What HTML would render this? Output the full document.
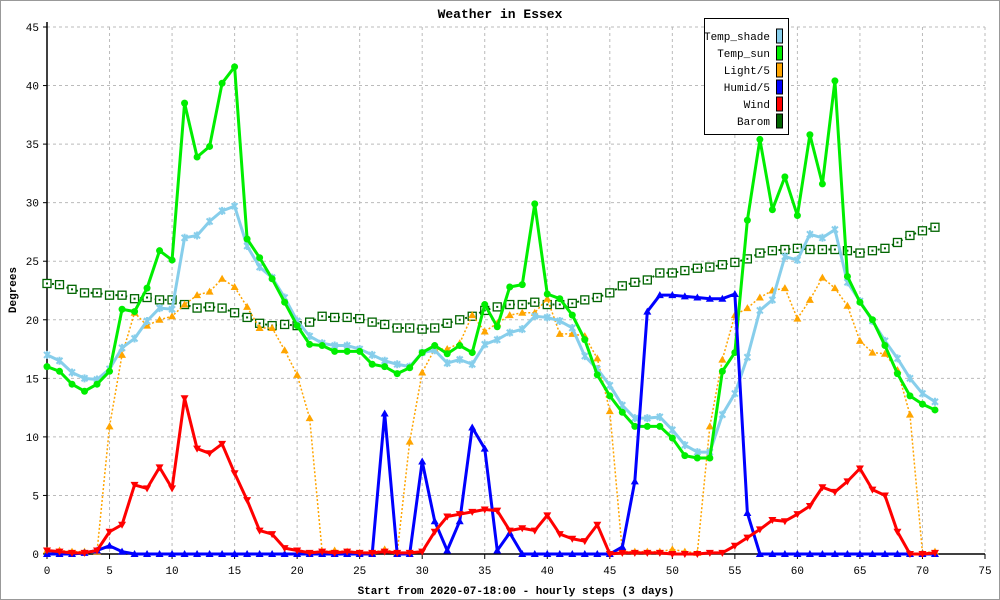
<!DOCTYPE html>
<html><head><meta charset="utf-8"><style>
body{margin:0;background:#fff;}
svg{display:block;font-family:"Liberation Mono",monospace;}
</style></head><body>
<svg id="chart" width="1000" height="600" viewBox="0 0 1000 600">
<rect x="0.5" y="0.5" width="999" height="599" fill="#fff" stroke="#999"/>
<text x="500" y="18" text-anchor="middle" font-size="13" font-weight="bold">Weather in Essex</text>
<text transform="translate(16,290) rotate(-90)" text-anchor="middle" font-size="11" font-weight="bold">Degrees</text>
<text x="516" y="594" text-anchor="middle" font-size="11" font-weight="bold">Start from 2020-07-18:00 - hourly steps (3 days)</text>
<g id="grid"></g><g id="axes"></g><g id="series"></g><g id="legend"></g>
</svg>
<script>
const xTicks=[0,5,10,15,20,25,30,35,40,45,50,55,60,65,70,75];
const yTicks=[0,5,10,15,20,25,30,35,40,45];
const tempShade=[17,16.5,15.5,15,14.9,15.8,17.6,18.4,19.9,21,20.9,27,27.2,28.4,29.3,29.7,26.3,24.5,23.6,21.9,19.9,18.6,18,17.8,17.8,17.5,17,16.5,16.2,16,17.2,17.4,16.3,16.6,16.2,17.9,18.3,18.9,19.2,20.3,20.2,19.9,19.3,16.9,15.8,14.4,12.7,11.6,11.6,11.7,10.6,9.3,8.7,8.7,11.9,13.7,16.8,20.8,21.7,25.4,25.1,27.3,27,27.7,23.2,21.6,19.9,18.2,16.7,15,13.7,13];
const tempSun=[16,15.6,14.5,13.9,14.5,15.6,20.9,20.7,22.7,25.9,25.1,38.5,33.9,34.8,40.2,41.6,26.9,25.3,23.5,21.5,19.5,17.9,17.8,17.3,17.3,17.3,16.2,16,15.4,15.9,17.2,17.8,17.1,17.8,17.2,21.3,19.4,22.8,23,29.9,22.2,21.8,20.4,18.3,15.3,13.5,12.1,10.9,10.9,10.9,9.9,8.4,8.2,8.2,15.6,17.2,28.5,35.4,29.4,32.2,28.9,35.8,31.6,40.4,23.7,21.5,20,17.8,15.4,13.5,12.8,12.3];
const light=[0.3,0.3,0.2,0.2,0.2,10.9,17,20.6,19.5,20,20.3,21.3,22.1,22.4,23.5,22.8,21.1,19.3,19.3,17.4,15.3,11.6,0.2,0.3,0.2,0.1,0.1,0.4,0.1,9.6,15.5,17.5,17.5,18,20.4,19,19.7,20.4,20.6,20.6,21.8,18.8,18.8,18.6,16.7,12.2,0.2,0.2,0.2,0.2,0.4,0.2,0.1,10.9,16.6,20.4,21,21.9,22.5,22.7,20.1,21.7,23.6,22.7,21.2,18.2,17.2,17.1,15.7,11.9,0.1,0.2];
const humid=[0,0,0,0.1,0.3,0.7,0.2,0,0,0,0,0,0,0,0,0,0,0,0,0,0,0,0,0,0,0,0,12,0,0,7.9,2.8,0.3,2.8,10.8,9,0.3,1.8,0,0,0,0,0,0,0,0,0.6,6.2,20.7,22.1,22.1,22,21.9,21.8,21.8,22.2,3.5,0,0,0,0,0,0,0,0,0,0,0,0,0,0,0];
const wind=[0.3,0.2,0.1,0.1,0.3,1.9,2.5,5.9,5.6,7.4,5.6,13.3,9,8.6,9.4,6.9,4.6,2,1.7,0.5,0.3,0.1,0.2,0.1,0.2,0.1,0.1,0.2,0.1,0.1,0.2,1.9,3.2,3.4,3.6,3.8,3.7,2,2.2,2,3.3,1.7,1.3,1.1,2.5,0,0.1,0.1,0.1,0.1,0,0,0,0.1,0.1,0.7,1.4,2.1,2.9,2.8,3.4,4.1,5.7,5.3,6.2,7.3,5.5,5,1.9,0,0,0.1];
const barom=[23.1,23,22.6,22.3,22.3,22.1,22.1,21.8,21.9,21.7,21.7,21.3,21,21.1,21,20.6,20.2,19.7,19.5,19.6,19.5,19.8,20.3,20.2,20.2,20.1,19.8,19.6,19.3,19.3,19.2,19.3,19.7,20,20.3,20.8,21.1,21.3,21.3,21.5,21.3,21.3,21.4,21.7,21.9,22.3,22.9,23.2,23.4,24,24,24.2,24.4,24.5,24.7,24.9,25.2,25.7,25.9,26,26.1,26,26,26,25.9,25.7,25.9,26.1,26.6,27.2,27.6,27.9];
const seriesNames=["Temp_shade","Temp_sun","Light/5","Humid/5","Wind","Barom"];

const NS="http://www.w3.org/2000/svg";
const X0=47,X1=985,Y0=554,Y1=27;
function sx(v){return X0+(X1-X0)*v/75;}
function sy(v){return Y0-(Y0-Y1)*v/45;}
function mk(tag,attrs,parent){const e=document.createElementNS(NS,tag);for(const k in attrs)e.setAttribute(k,attrs[k]);parent.appendChild(e);return e;}
const grid=document.getElementById('grid'),axes=document.getElementById('axes'),ser=document.getElementById('series'),leg=document.getElementById('legend');

yTicks.forEach(t=>{
  if(t>0){const g=mk('line',{x1:X0,x2:X1,y1:sy(t),y2:sy(t),stroke:'#bbb','stroke-dasharray':'3,3'},grid);
  
  }
  const tk=mk('line',{x1:X0-4,x2:X0,y1:sy(t),y2:sy(t),stroke:'#000'},axes);
  
  
  const lb=mk('text',{x:X0-8,y:sy(t)+4,'text-anchor':'end','font-size':11},axes);
  lb.textContent=t;
  
  
});
xTicks.forEach(t=>{
  if(t>0){const g=mk('line',{x1:sx(t),x2:sx(t),y1:Y1,y2:Y0,stroke:'#bbb','stroke-dasharray':'3,3'},grid);
  
  }
  const tk=mk('line',{x1:sx(t),x2:sx(t),y1:Y0,y2:Y0+5,stroke:'#000'},axes);
  
  
  const lb=mk('text',{x:sx(t),y:Y0+20,'text-anchor':'middle','font-size':11},axes);
  lb.textContent=t;
  
  
});
const ax1=mk('line',{x1:X0,x2:X0,y1:Y1-5,y2:Y0,stroke:'#000','stroke-width':1.5},axes);


const ax2=mk('line',{x1:X0,x2:X1,y1:Y0,y2:Y0,stroke:'#000','stroke-width':1.5},axes);



function marker(type,x,y,color,g){
  let e;
  if(type==='circle')e=mk('circle',{cx:x,cy:y,r:3.5,fill:color},g);
  else if(type==='up')e=mk('polygon',{points:`${x},${y-4} ${x-4},${y+3} ${x+4},${y+3}`,fill:color},g);
  else if(type==='down')e=mk('polygon',{points:`${x},${y+4} ${x-4},${y-3} ${x+4},${y-3}`,fill:color},g);
  else if(type==='star')e=mk('path',{d:`M${x-3},${y-3}L${x+3},${y+3}M${x+3},${y-3}L${x-3},${y+3}M${x},${y-4}L${x},${y+4}`,stroke:color,'stroke-width':2},g);
  else if(type==='square'){e=mk('rect',{x:x-4,y:y-4,width:8,height:8,fill:'#fff',stroke:color,'stroke-width':1.3},g);
    mk('rect',{x:x-1,y:y-1,width:2,height:2,fill:color},g);}
  
  
}
function drawSeries(data,color,width,dash,mtype,name){
  const g=mk('g',{},ser);
  
  
  const pts=data.map((v,i)=>sx(i)+','+sy(v)).join(' ');
  const attrs={points:pts,fill:'none',stroke:color,'stroke-width':width,'stroke-linejoin':'round'};
  if(dash)attrs['stroke-dasharray']=dash;
  const pl=mk('polyline',attrs,g);
  
  
  data.forEach((v,i)=>marker(mtype,sx(i),sy(v),color,g));
}
drawSeries(barom,'#006400',2,'2,3','square','barom-series');
drawSeries(light,'#ffa500',1.5,'2,2','up','light-series');
drawSeries(tempShade,'#87ceeb',3,null,'star','temp-shade-series');
drawSeries(tempSun,'#00ee00',3,null,'circle','temp-sun-series');
drawSeries(humid,'#0000ff',3,null,'up','humid-series');
drawSeries(wind,'#ff0000',3,null,'down','wind-series');

const colors=['#87ceeb','#00ee00','#ffa500','#0000ff','#ff0000','#006400'];
const lb=mk('rect',{x:704.5,y:18.5,width:84,height:116,fill:'#fff',stroke:'#000'},leg);


seriesNames.forEach((n,i)=>{
  const y=36+i*17;
  const t=mk('text',{x:770,y:y+4,'text-anchor':'end','font-size':11},leg);
  t.textContent=n;
  
  
  const s=mk('rect',{x:776.5,y:y-7,width:6,height:14,fill:colors[i],stroke:'#000'},leg);
  
  
});
</script>
</body></html>
